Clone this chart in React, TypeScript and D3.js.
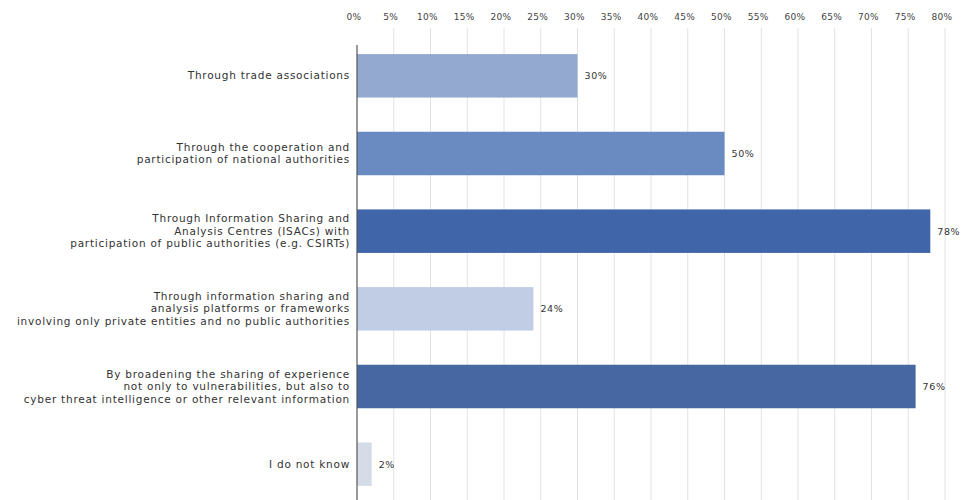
import React, { useEffect } from "react";
import * as d3 from "d3";

const categories: string[][] = [
  ["Through trade associations"],
  ["Through the cooperation and", "participation of national authorities"],
  ["Through Information Sharing and", "Analysis Centres (ISACs) with", "participation of public authorities (e.g. CSIRTs)"],
  ["Through information sharing and", "analysis platforms or frameworks", "involving only private entities and no public authorities"],
  ["By broadening the sharing of experience", "not only to vulnerabilities, but also to", "cyber threat intelligence or other relevant information"],
  ["I do not know"],
];
const values: number[] = [30, 50, 78, 24, 76, 2];
const ticks: number[] = [0, 5, 10, 15, 20, 25, 30, 35, 40, 45, 50, 55, 60, 65, 70, 75, 80];
const colors: string[] = ["#93a9d0", "#6a8ac2", "#4065a9", "#c1cde5", "#4767a3", "#d5dce8"];

const W = 962;
const H = 500;

export default function App() {
  useEffect(() => {
    document.body.style.margin = "0";
  }, []);
  const x = d3.scaleLinear().domain([0, 80]).range([357, 945]);
  const y = d3
    .scaleBand<number>()
    .domain(d3.range(values.length))
    .range([37, 503])
    .paddingInner(0.44)
    .paddingOuter(0.22);
  const font = "'DejaVu Sans', sans-serif";
  const lh = 12.5;
  return (
    <svg width={W} height={H} style={{ display: "block", background: "#fff" }} fontFamily={font}>
      {ticks.map((t) => (
        <g key={t}>
          {t > 0 && (
            <line x1={x(t)} x2={x(t)} y1={28} y2={H} stroke="#e2e2e2" strokeWidth={1} />
          )}
          <text x={x(t) - 3} y={20} textAnchor="middle" fontSize={9} letterSpacing={0.3} fill="#444">
            {t}%
          </text>
        </g>
      ))}
      {values.map((v, i) => {
        const y0 = y(i)!;
        const bh = y.bandwidth();
        const cy = y0 + bh / 2;
        const lines = categories[i];
        const start = cy - ((lines.length - 1) * lh) / 2;
        return (
          <g key={i}>
            <rect x={x(0)} y={y0} width={x(v) - x(0)} height={bh} fill={colors[i]} />
            <text x={x(v) + 7} y={cy + 3.5} fontSize={9.5} letterSpacing={0.6} fill="#333">
              {v}%
            </text>
            {lines.map((l, j) => (
              <text
                key={j}
                x={350}
                y={start + j * lh + 3.5}
                textAnchor="end"
                fontSize={10.5}
                letterSpacing={0.75}
                fill="#333"
              >
                {l}
              </text>
            ))}
          </g>
        );
      })}
      <line x1={x(0)} x2={x(0)} y1={45} y2={H} stroke="#555" strokeWidth={1.2} />
    </svg>
  );
}
